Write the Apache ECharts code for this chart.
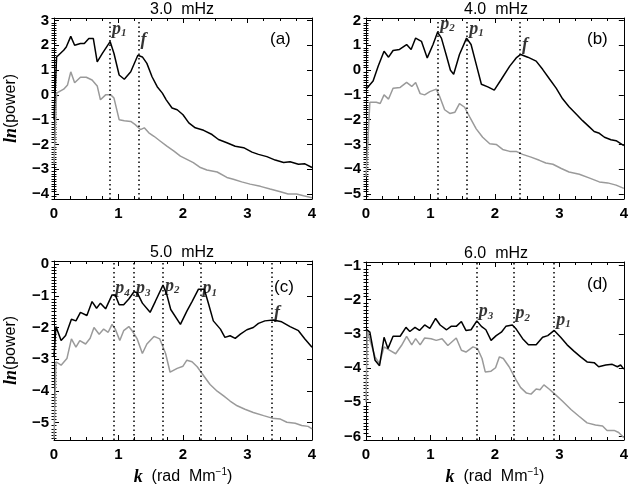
<!DOCTYPE html>
<html><head><meta charset="utf-8">
<script src="https://cdn.jsdelivr.net/npm/echarts@6/dist/echarts.min.js"></script>
<style>html,body{margin:0;padding:0;background:#fff}#c{width:631px;height:488px}</style>
</head><body><div id="c"></div>
<script>
// ---- data: [k (rad/Mm), ln(power)] ----
const aBlack = [[0,-1.0],[0.04,1.53],[0.15,1.8],[0.19,1.93],[0.26,2.36],[0.32,2.0],[0.41,2.07],[0.47,2.07],[0.54,2.27],[0.61,2.27],[0.67,1.33],[0.75,1.67],[0.87,2.15],[0.93,1.67],[1.01,0.8],[1.09,0.63],[1.19,0.93],[1.30,1.6],[1.37,1.53],[1.44,1.27],[1.52,0.73],[1.60,0.33],[1.68,0.07],[1.74,-0.2],[1.83,-0.53],[1.91,-0.6],[2.0,-0.8],[2.09,-1.13],[2.19,-1.33],[2.32,-1.43],[2.45,-1.6],[2.55,-1.8],[2.68,-1.93],[2.81,-2.07],[2.94,-2.13],[3.07,-2.31],[3.17,-2.4],[3.30,-2.49],[3.43,-2.63],[3.56,-2.73],[3.66,-2.7],[3.79,-2.8],[3.89,-2.78],[4.0,-2.93]];
const aGray = [[0,-2.8],[0.04,0.07],[0.15,0.23],[0.21,0.4],[0.26,0.93],[0.32,0.49],[0.41,0.71],[0.5,0.71],[0.59,0.6],[0.67,0.36],[0.72,-0.2],[0.8,0.0],[0.88,0.0],[0.93,-0.13],[1.01,-1.0],[1.09,-1.04],[1.19,-1.07],[1.26,-1.2],[1.34,-1.4],[1.40,-1.33],[1.47,-1.53],[1.55,-1.67],[1.65,-1.87],[1.75,-2.07],[1.86,-2.27],[1.96,-2.47],[2.06,-2.6],[2.16,-2.73],[2.27,-2.93],[2.37,-3.03],[2.53,-3.11],[2.68,-3.33],[2.78,-3.4],[2.91,-3.51],[3.04,-3.6],[3.20,-3.69],[3.35,-3.8],[3.51,-3.91],[3.63,-4.0],[3.76,-4.0],[3.87,-4.07],[4.0,-4.15]];
const bBlack = [[0,-0.77],[0.11,-0.44],[0.19,0.16],[0.28,0.76],[0.35,0.52],[0.42,0.79],[0.52,0.83],[0.63,1.03],[0.70,0.83],[0.77,1.29],[0.86,1.16],[0.95,0.49],[1.04,1.03],[1.11,1.53],[1.17,1.29],[1.25,0.56],[1.31,-0.01],[1.36,-0.17],[1.45,0.63],[1.56,1.29],[1.63,1.03],[1.71,0.23],[1.79,-0.57],[1.89,-0.68],[1.99,-0.81],[2.10,-0.37],[2.23,0.16],[2.33,0.49],[2.40,0.63],[2.51,0.52],[2.64,0.36],[2.74,0.03],[2.85,-0.37],[2.95,-0.73],[3.05,-1.16],[3.15,-1.48],[3.26,-1.77],[3.36,-2.04],[3.46,-2.28],[3.54,-2.48],[3.62,-2.55],[3.70,-2.71],[3.80,-2.81],[3.88,-2.85],[4.0,-3.05]];
const bGray = [[0,-4.3],[0.06,-1.3],[0.16,-1.3],[0.22,-1.35],[0.28,-1.0],[0.35,-1.17],[0.42,-0.73],[0.53,-0.7],[0.63,-0.5],[0.71,-0.66],[0.77,-0.5],[0.84,-0.95],[0.91,-1.0],[0.99,-0.87],[1.09,-0.77],[1.14,-1.05],[1.22,-1.6],[1.30,-1.75],[1.38,-1.7],[1.45,-1.35],[1.53,-1.5],[1.61,-1.9],[1.71,-2.37],[1.81,-2.71],[1.92,-2.97],[2.02,-3.0],[2.12,-3.2],[2.23,-3.28],[2.33,-3.28],[2.43,-3.4],[2.56,-3.51],[2.69,-3.64],[2.79,-3.75],[2.90,-3.8],[3.03,-3.97],[3.15,-4.11],[3.31,-4.2],[3.46,-4.35],[3.62,-4.51],[3.75,-4.55],[3.88,-4.64],[4.0,-4.77]];
const cBlack = [[0,-2.9],[0.03,-1.97],[0.11,-2.41],[0.18,-2.25],[0.27,-1.74],[0.34,-1.79],[0.41,-1.52],[0.51,-1.62],[0.59,-1.18],[0.66,-1.39],[0.72,-1.23],[0.80,-1.41],[0.90,-0.97],[0.95,-0.97],[1.01,-1.28],[1.08,-1.28],[1.16,-1.1],[1.24,-0.87],[1.29,-0.9],[1.37,-1.23],[1.49,-1.52],[1.57,-1.18],[1.69,-0.66],[1.75,-0.97],[1.81,-1.43],[1.96,-1.9],[2.06,-1.48],[2.14,-1.18],[2.24,-0.79],[2.33,-0.79],[2.40,-1.28],[2.47,-1.79],[2.58,-2.05],[2.65,-2.31],[2.73,-2.26],[2.81,-2.34],[2.89,-2.21],[2.99,-2.07],[3.09,-2.0],[3.17,-1.87],[3.27,-1.79],[3.40,-1.76],[3.53,-1.82],[3.66,-1.97],[3.79,-2.1],[3.89,-2.36],[4.0,-2.62]];
const cGray = [[0,-5.5],[0.03,-3.08],[0.11,-3.19],[0.2,-2.98],[0.27,-2.36],[0.34,-2.62],[0.40,-2.41],[0.49,-2.52],[0.56,-2.34],[0.62,-2.0],[0.70,-2.21],[0.77,-2.05],[0.84,-2.15],[0.90,-1.9],[0.95,-2.05],[1.02,-2.41],[1.08,-2.1],[1.16,-1.97],[1.21,-2.1],[1.29,-2.36],[1.37,-2.82],[1.44,-2.52],[1.55,-2.28],[1.64,-2.36],[1.73,-2.82],[1.80,-3.41],[1.91,-3.29],[2.0,-3.22],[2.06,-3.03],[2.14,-3.08],[2.22,-3.24],[2.32,-3.52],[2.42,-3.8],[2.53,-4.01],[2.63,-4.16],[2.73,-4.32],[2.84,-4.47],[2.96,-4.58],[3.09,-4.68],[3.25,-4.78],[3.38,-4.86],[3.51,-4.89],[3.61,-4.99],[3.74,-5.02],[3.84,-5.09],[3.94,-5.12],[4.0,-5.2]];
const dBlack = [[0,-2.86],[0.06,-2.95],[0.14,-3.77],[0.21,-3.93],[0.28,-3.1],[0.34,-3.43],[0.42,-3.07],[0.53,-3.07],[0.62,-2.81],[0.68,-2.93],[0.76,-2.81],[0.83,-2.9],[0.91,-2.74],[0.99,-2.84],[1.08,-2.55],[1.15,-2.74],[1.25,-2.88],[1.32,-2.78],[1.40,-2.78],[1.48,-2.64],[1.55,-2.9],[1.63,-2.88],[1.72,-2.62],[1.79,-2.78],[1.86,-2.88],[1.94,-3.19],[2.02,-3.05],[2.10,-2.95],[2.17,-2.78],[2.27,-2.74],[2.33,-2.86],[2.43,-3.14],[2.52,-3.32],[2.64,-3.32],[2.74,-3.1],[2.82,-3.05],[2.92,-2.9],[3.02,-3.1],[3.12,-3.32],[3.23,-3.51],[3.33,-3.67],[3.43,-3.82],[3.54,-3.84],[3.61,-3.96],[3.72,-3.91],[3.82,-3.89],[3.90,-3.96],[3.95,-3.91],[4.0,-4.03]];
const dGray = [[0,-5.0],[0.02,-2.9],[0.07,-3.24],[0.14,-3.67],[0.21,-3.87],[0.28,-3.38],[0.37,-3.48],[0.46,-3.58],[0.55,-3.34],[0.63,-3.07],[0.71,-3.32],[0.77,-3.14],[0.84,-3.32],[0.91,-3.12],[1.01,-3.14],[1.09,-3.19],[1.18,-3.14],[1.27,-3.34],[1.40,-3.12],[1.48,-3.48],[1.55,-3.53],[1.66,-3.38],[1.73,-3.43],[1.80,-3.72],[1.85,-4.11],[1.94,-4.09],[2.01,-3.99],[2.07,-3.67],[2.13,-3.72],[2.22,-3.96],[2.33,-4.35],[2.40,-4.57],[2.49,-4.73],[2.56,-4.76],[2.64,-4.61],[2.70,-4.63],[2.76,-4.49],[2.84,-4.61],[2.93,-4.76],[3.05,-4.97],[3.18,-5.21],[3.30,-5.4],[3.43,-5.6],[3.56,-5.66],[3.67,-5.69],[3.74,-5.82],[3.85,-5.82],[3.92,-5.88],[4.0,-6.03]];

// mode ridge positions (k) and their labels
const aModeK = [0.87, 1.31];             const aModeName = ['p1','f'];
const aModeLabelY = [2.66, 2.2];
const bModeK = [1.12, 1.57, 2.39];       const bModeName = ['p2','p1','f'];
const bModeLabelY = [1.86, 1.66, 0.98];
const cModeK = [0.92, 1.24, 1.69, 2.27, 3.38]; const cModeName = ['p4','p3','p2','p1','f'];
const cModeLabelY = [-0.76, -0.76, -0.69, -0.76, -1.54];
const dModeK = [1.72, 2.29, 2.92];       const dModeName = ['p3','p2','p1'];
const dModeLabelY = [-2.35, -2.4, -2.59];

// tick labels
const xTicks = [0, 1, 2, 3, 4];
const aYTicks = [-4, -3, -2, -1, 0, 1, 2, 3];
const bYTicks = [-5, -4, -3, -2, -1, 0, 1, 2];
const cYTicks = [-5, -4, -3, -2, -1, 0];
const dYTicks = [-6, -5, -4, -3, -2, -1];
const titles = ['3.0  mHz', '4.0  mHz', '5.0  mHz', '6.0  mHz'];
const tags = ['(a)', '(b)', '(c)', '(d)'];

const panels = [
  {black:aBlack, gray:aGray, mk:aModeK, mn:aModeName, my:aModeLabelY, yt:aYTicks, ymin:-4.2, ymax:3.1, left:52, top:18, h:181, tagPos:[270,31], xName:false, yName:true},
  {black:bBlack, gray:bGray, mk:bModeK, mn:bModeName, my:bModeLabelY, yt:bYTicks, ymin:-5.2, ymax:2.1, left:366, top:18, h:181, tagPos:[587,31], xName:false, yName:false},
  {black:cBlack, gray:cGray, mk:cModeK, mn:cModeName, my:cModeLabelY, yt:cYTicks, ymin:-5.55, ymax:0.1, left:52, top:261, h:181, tagPos:[274,279], xName:true, yName:true},
  {black:dBlack, gray:dGray, mk:dModeK, mn:dModeName, my:dModeLabelY, yt:dYTicks, ymin:-6.1, ymax:-0.9, left:366, top:262, h:180, tagPos:[587,276], xName:true, yName:false}
];

const FONT = 'Liberation Sans';
const W = 260;
const grid = [], xAxis = [], yAxis = [], series = [], title = [];
const lineCol = '#000';
const fmtNum = v => String(Math.round(v)).replace('-', '\u2212');

panels.forEach((p, i) => {
  grid.push({left:p.left, top:p.top, width:W, height:p.h, containLabel:false});
  const minor = [];
  for (let v = Math.ceil(p.ymin*10); v <= Math.floor(p.ymax*10); v++) { if (v % 10 !== 0) minor.push(v/10); }
  const xBase = {gridIndex:i, type:'value', min:0, max:4, interval:1, splitLine:{show:false},
    axisLine:{show:true, onZero:false, lineStyle:{color:lineCol, width:1}},
    axisTick:{show:true, inside:true, length:5, lineStyle:{color:lineCol}},
    minorTick:{show:true, splitNumber:4, length:3, lineStyle:{color:lineCol}}};
  xAxis.push(Object.assign({}, xBase, {position:'bottom',
    axisLabel:{show:true, customValues:xTicks, formatter:fmtNum, fontFamily:FONT, fontWeight:'bold', fontSize:15, color:'#000', margin:7},
    name: p.xName ? '{it|k}  (rad  Mm{sup|\u22121})' : '', nameLocation:'middle', nameGap:27,
    nameTextStyle:{fontFamily:FONT, fontSize:16, color:'#000', lineHeight:20,
      rich:{it:{fontFamily:'Liberation Serif', fontStyle:'italic', fontWeight:'bold', fontSize:18, lineHeight:20},
            sup:{fontFamily:FONT, fontSize:10, lineHeight:12, verticalAlign:'top'}}}}));
  xAxis.push(Object.assign({}, xBase, {position:'top', axisLabel:{show:false}}));
  const yBase = {gridIndex:i, type:'value', min:p.ymin, max:p.ymax, splitLine:{show:false},
    axisLine:{show:true, onZero:false, lineStyle:{color:lineCol, width:1}}};
  yAxis.push(Object.assign({}, yBase, {position:'left',
    axisTick:{show:true, inside:true, length:5, customValues:p.yt, lineStyle:{color:lineCol}},
    axisLabel:{show:true, customValues:p.yt, formatter:fmtNum, fontFamily:FONT, fontWeight:'bold', fontSize:15, color:'#000', margin:5},
    name: p.yName ? '{it|ln}(power)' : '', nameLocation:'middle', nameRotate:90, nameGap:33,
    nameTextStyle:{fontFamily:FONT, fontSize:16, color:'#000', lineHeight:20,
      rich:{it:{fontFamily:'Liberation Serif', fontStyle:'italic', fontWeight:'bold', fontSize:18, lineHeight:20}}}}));
  yAxis.push(Object.assign({}, yBase, {position:'left', axisLine:{show:false},
    axisTick:{show:true, inside:true, length:2.5, customValues:minor, lineStyle:{color:lineCol}},
    axisLabel:{show:false}}));
  yAxis.push(Object.assign({}, yBase, {position:'right',
    axisTick:{show:true, inside:true, length:5, customValues:p.yt, lineStyle:{color:lineCol}},
    axisLabel:{show:false}}));
  yAxis.push(Object.assign({}, yBase, {position:'right', axisLine:{show:false},
    axisTick:{show:true, inside:true, length:2.5, customValues:minor, lineStyle:{color:lineCol}},
    axisLabel:{show:false}}));

  series.push({type:'line', xAxisIndex:2*i, yAxisIndex:4*i, data:p.gray, showSymbol:false, silent:true,
    lineStyle:{color:'#9a9a9a', width:1.5}, z:2});
  series.push({type:'line', xAxisIndex:2*i, yAxisIndex:4*i, data:p.black, showSymbol:false, silent:true,
    lineStyle:{color:'#000', width:1.5}, z:3,
    markLine:{symbol:'none', silent:true, animation:false, label:{show:false},
      lineStyle:{color:'#000', type:[1.5,3], width:1.5},
      data:p.mk.map(k => ({xAxis:k}))}});
  series.push({type:'scatter', xAxisIndex:2*i, yAxisIndex:4*i, symbolSize:0, silent:true, z:4,
    data:p.mk.map((k, j) => [k, p.my[j], p.mn[j]]),
    label:{show:true, position:'right', distance:2,
      formatter: prm => { const n = prm.data[2]; return n.length > 1 ? '{i|' + n[0] + '}{s|' + n.slice(1) + '}' : '{i|' + n + '}'; },
      rich:{i:{fontFamily:'Liberation Serif', fontStyle:'italic', fontWeight:'bold', fontSize:18, lineHeight:20, color:'#000'},
            s:{fontFamily:'Liberation Serif', fontStyle:'italic', fontWeight:'bold', fontSize:11, lineHeight:12, verticalAlign:'bottom', color:'#000'}}}});

  title.push({text:titles[i], left:p.left + W/2, top:p.top - 16, textAlign:'center', padding:0,
    textStyle:{fontFamily:FONT, fontSize:16, fontWeight:'normal', color:'#000'}});
  title.push({text:tags[i], left:p.tagPos[0], top:p.tagPos[1], padding:0,
    textStyle:{fontFamily:FONT, fontSize:17, fontWeight:'normal', color:'#000'}});
});

const chart = echarts.init(document.getElementById('c'), null, {renderer:'canvas'});
chart.setOption({animation:false, backgroundColor:'#fff', title, grid, xAxis, yAxis, series});
</script></body></html>
